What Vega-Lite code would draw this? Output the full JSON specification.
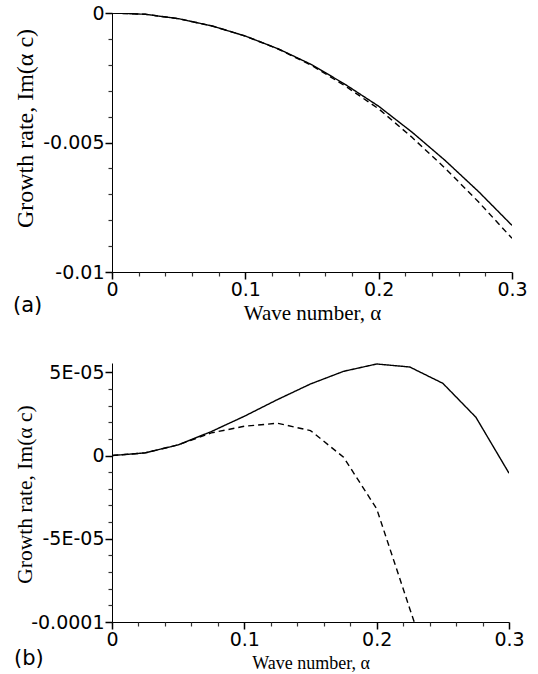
{
  "$schema": "https://vega.github.io/schema/vega-lite/v6.json",
  "padding": {"left": 12, "top": 4, "right": 5, "bottom": 2},
  "spacing": 40,
  "config": {
    "view": {"stroke": null},
    "axis": {
      "grid": false,
      "ticks": true,
      "tickSize": 7,
      "tickWidth": 1.5,
      "tickColor": "#000",
      "tickOpacity": 1,
      "domainColor": "#000",
      "domainWidth": 1,
      "labelColor": "#000",
      "titleColor": "#000",
      "labelFont": "DejaVu Sans",
      "titleFont": "Liberation Serif",
      "titleFontWeight": "normal",
      "labelPadding": 1,
      "labelFlush": false,
      "labelOverlap": false
    }
  },
  "vconcat": [
    {
      "width": 400,
      "height": 259,
      "title": {"text": "(a)", "orient": "bottom", "anchor": "start", "frame": "bounds", "font": "DejaVu Sans", "fontSize": 21, "fontWeight": "normal", "color": "#000", "dy": -28, "offset": 0},
      "data": {"values": [
        {"alpha": 0, "series": "curve 1", "growth": 0},
        {"alpha": 0.025, "series": "curve 1", "growth": -0.00005},
        {"alpha": 0.05, "series": "curve 1", "growth": -0.00022},
        {"alpha": 0.075, "series": "curve 1", "growth": -0.0005},
        {"alpha": 0.1, "series": "curve 1", "growth": -0.00089},
        {"alpha": 0.125, "series": "curve 1", "growth": -0.00139},
        {"alpha": 0.15, "series": "curve 1", "growth": -0.002},
        {"alpha": 0.175, "series": "curve 1", "growth": -0.00276},
        {"alpha": 0.2, "series": "curve 1", "growth": -0.0036},
        {"alpha": 0.225, "series": "curve 1", "growth": -0.0046},
        {"alpha": 0.25, "series": "curve 1", "growth": -0.0057},
        {"alpha": 0.275, "series": "curve 1", "growth": -0.0069},
        {"alpha": 0.3, "series": "curve 1", "growth": -0.0082},
        {"alpha": 0, "series": "curve 2", "growth": 0},
        {"alpha": 0.025, "series": "curve 2", "growth": -0.00005},
        {"alpha": 0.05, "series": "curve 2", "growth": -0.00022},
        {"alpha": 0.075, "series": "curve 2", "growth": -0.0005},
        {"alpha": 0.1, "series": "curve 2", "growth": -0.00089},
        {"alpha": 0.125, "series": "curve 2", "growth": -0.0014},
        {"alpha": 0.15, "series": "curve 2", "growth": -0.00203},
        {"alpha": 0.175, "series": "curve 2", "growth": -0.00282},
        {"alpha": 0.2, "series": "curve 2", "growth": -0.0037},
        {"alpha": 0.225, "series": "curve 2", "growth": -0.0048},
        {"alpha": 0.25, "series": "curve 2", "growth": -0.006},
        {"alpha": 0.275, "series": "curve 2", "growth": -0.0073},
        {"alpha": 0.3, "series": "curve 2", "growth": -0.0087}
      ]},
      "resolve": {"axis": {"x": "independent", "y": "independent"}},
      "layer": [
        {
          "mark": {"type": "line", "color": "#000", "strokeWidth": 1.4, "clip": true},
          "encoding": {
            "x": {
              "field": "alpha", "type": "quantitative",
              "scale": {"domain": [0, 0.3], "nice": false},
              "axis": {
                "orient": "bottom",
                "title": "Wave number, α",
                "titleFontSize": 21,
                "titleY": 30,
                "labelFontSize": 19,
                "values": [0, 0.1, 0.2, 0.3],
                "labelExpr": "''+datum.value"
              }
            },
            "y": {
              "field": "growth", "type": "quantitative",
              "scale": {"domain": [-0.01, 0], "nice": false},
              "axis": {
                "orient": "left",
                "title": "Growth rate, Im(α c)",
                "titleFontSize": 24,
                "titleX": -75,
                "titleY": 115,
                "labelFontSize": 19,
                "values": [0, -0.005, -0.01],
                "labelExpr": "''+datum.value"
              }
            },
            "strokeDash": {"field": "series", "type": "nominal", "scale": {"domain": ["curve 1", "curve 2"], "range": [[1, 0], [6, 4]]}, "legend": null}
          }
        },
        {
          "mark": {"type": "line", "opacity": 0, "clip": true},
          "encoding": {
            "x": {
              "field": "alpha", "type": "quantitative",
              "axis": {"orient": "bottom", "title": null, "labels": false, "domain": false, "tickSize": 4, "tickWidth": 1.2, "tickColor": "#333",
                "values": [0.02, 0.04, 0.06, 0.08, 0.12, 0.14, 0.16, 0.18, 0.22, 0.24, 0.26, 0.28]}
            },
            "y": {
              "field": "growth", "type": "quantitative",
              "axis": {"orient": "left", "title": null, "labels": false, "domain": false, "tickSize": 4, "tickWidth": 1.2, "tickColor": "#333",
                "values": [-0.001, -0.002, -0.003, -0.004, -0.006, -0.007, -0.008, -0.009]}
            },
            "detail": {"field": "series"}
          }
        }
      ]
    },
    {
      "width": 397,
      "height": 259,
      "title": {"text": "(b)", "orient": "bottom", "anchor": "start", "frame": "bounds", "font": "DejaVu Sans", "fontSize": 21, "fontWeight": "normal", "color": "#000", "dy": -24, "offset": 0},
      "data": {"values": [
        {"alpha": 0, "series": "curve 1", "growth": 0},
        {"alpha": 0.025, "series": "curve 1", "growth": 0.0000016},
        {"alpha": 0.05, "series": "curve 1", "growth": 0.0000064},
        {"alpha": 0.075, "series": "curve 1", "growth": 0.0000144},
        {"alpha": 0.1, "series": "curve 1", "growth": 0.0000236},
        {"alpha": 0.125, "series": "curve 1", "growth": 0.0000336},
        {"alpha": 0.15, "series": "curve 1", "growth": 0.000043},
        {"alpha": 0.175, "series": "curve 1", "growth": 0.0000506},
        {"alpha": 0.2, "series": "curve 1", "growth": 0.000055},
        {"alpha": 0.225, "series": "curve 1", "growth": 0.0000532},
        {"alpha": 0.25, "series": "curve 1", "growth": 0.0000434},
        {"alpha": 0.275, "series": "curve 1", "growth": 0.000023},
        {"alpha": 0.3, "series": "curve 1", "growth": -0.0000106},
        {"alpha": 0, "series": "curve 2", "growth": 0},
        {"alpha": 0.025, "series": "curve 2", "growth": 0.0000016},
        {"alpha": 0.05, "series": "curve 2", "growth": 0.0000064},
        {"alpha": 0.075, "series": "curve 2", "growth": 0.0000136},
        {"alpha": 0.1, "series": "curve 2", "growth": 0.0000176},
        {"alpha": 0.125, "series": "curve 2", "growth": 0.0000194},
        {"alpha": 0.15, "series": "curve 2", "growth": 0.000015},
        {"alpha": 0.175, "series": "curve 2", "growth": -0.000001},
        {"alpha": 0.2, "series": "curve 2", "growth": -0.000032},
        {"alpha": 0.225, "series": "curve 2", "growth": -0.000092},
        {"alpha": 0.25, "series": "curve 2", "growth": -0.000151}
      ]},
      "resolve": {"axis": {"x": "independent", "y": "independent"}},
      "layer": [
        {
          "mark": {"type": "line", "color": "#000", "strokeWidth": 1.4, "clip": true},
          "encoding": {
            "x": {
              "field": "alpha", "type": "quantitative",
              "scale": {"domain": [0, 0.3], "nice": false},
              "axis": {
                "orient": "bottom",
                "title": "Wave number, α",
                "titleFontSize": 18,
                "titleY": 32,
                "labelFontSize": 19,
                "values": [0, 0.1, 0.2, 0.3],
                "labelExpr": "''+datum.value"
              }
            },
            "y": {
              "field": "growth", "type": "quantitative",
              "scale": {"domain": [-0.0001, 0.0000556], "nice": false},
              "axis": {
                "orient": "left",
                "title": "Growth rate, Im(α c)",
                "titleFontSize": 21.5,
                "titleX": -76,
                "titleY": 131,
                "labelFontSize": 19,
                "values": [0.00005, 0, -0.00005, -0.0001],
                "labelExpr": "abs(datum.value-0.00005)<1e-9 ? '5E-05' : abs(datum.value)<1e-9 ? '0' : abs(datum.value+0.00005)<1e-9 ? '-5E-05' : '-0.0001'"
              }
            },
            "strokeDash": {"field": "series", "type": "nominal", "scale": {"domain": ["curve 1", "curve 2"], "range": [[1, 0], [6, 4]]}, "legend": null}
          }
        },
        {
          "mark": {"type": "line", "opacity": 0, "clip": true},
          "encoding": {
            "x": {
              "field": "alpha", "type": "quantitative",
              "axis": {"orient": "bottom", "title": null, "labels": false, "domain": false, "tickSize": 4, "tickWidth": 1.2, "tickColor": "#333",
                "values": [0.02, 0.04, 0.06, 0.08, 0.12, 0.14, 0.16, 0.18, 0.22, 0.24, 0.26, 0.28]}
            },
            "y": {
              "field": "growth", "type": "quantitative",
              "axis": {"orient": "left", "title": null, "labels": false, "domain": false, "tickSize": 4, "tickWidth": 1.2, "tickColor": "#333",
                "values": [0.00004, 0.00003, 0.00002, 0.00001, -0.00001, -0.00002, -0.00003, -0.00004, -0.00006, -0.00007, -0.00008, -0.00009]}
            },
            "detail": {"field": "series"}
          }
        }
      ]
    }
  ]
}
